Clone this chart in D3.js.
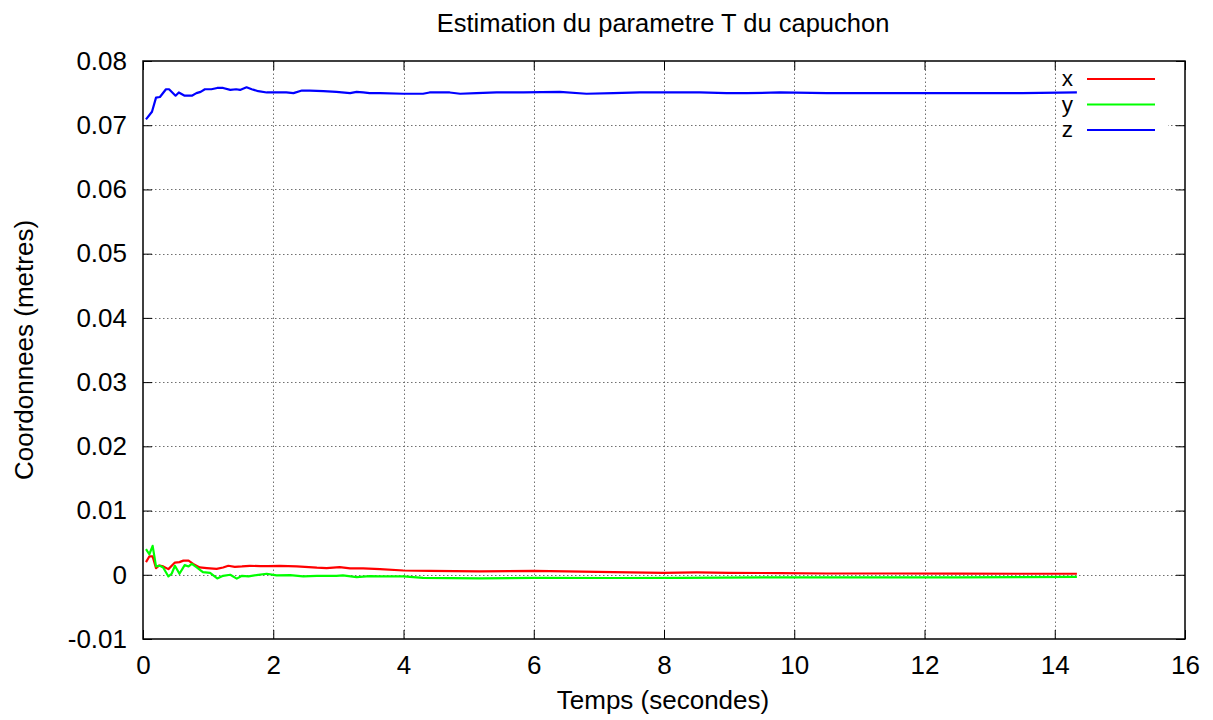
<!DOCTYPE html>
<html>
<head>
<meta charset="utf-8">
<script src="https://cdn.jsdelivr.net/npm/d3@7"></script>
<style>
  html, body { margin: 0; padding: 0; background: #fff; }
  svg { display: block; }
  text { font-family: "Liberation Sans", Arial, Helvetica, sans-serif; fill: #000; }
</style>
</head>
<body>
<svg id="chart" width="1213" height="720"></svg>
<script>
// ---- data ----
const title = "Estimation du parametre T du capuchon";
const xLabel = "Temps (secondes)";
const yLabel = "Coordonnees (metres)";
const xTicks = [0, 2, 4, 6, 8, 10, 12, 14, 16];
const yTicks = [-0.01, 0, 0.01, 0.02, 0.03, 0.04, 0.05, 0.06, 0.07, 0.08];
const seriesNames = ["x", "y", "z"];
const seriesColors = ["#ff0000", "#00ff00", "#0000ff"];

const xTime = [0.046, 0.097, 0.148, 0.2, 0.25, 0.31, 0.39, 0.49, 0.56, 0.62, 0.70, 0.77, 0.87, 0.98, 1.13, 1.23, 1.31, 1.41, 1.52, 1.64, 1.80, 1.92, 2.10, 2.36, 2.67, 2.82, 3.02, 3.18, 3.38, 3.64, 4.0, 4.4, 5.17, 6.0, 6.5, 7.22, 7.99, 8.5, 9.0, 9.78, 10.5, 11.5, 12.5, 13.5, 14.34];
const xValues = [0.00197, 0.00285, 0.00285, 0.00104, 0.00145, 0.0013, 0.00088, 0.0019, 0.00197, 0.0022, 0.0022, 0.0017, 0.00114, 0.00104, 0.00093, 0.00114, 0.0014, 0.00124, 0.0013, 0.0014, 0.00135, 0.00135, 0.0014, 0.0013, 0.0011, 0.00104, 0.0012, 0.001, 0.001, 0.00088, 0.00067, 0.00062, 0.00052, 0.00062, 0.00052, 0.00041, 0.00031, 0.00036, 0.00031, 0.00026, 0.0002, 0.0002, 0.00018, 0.00016, 0.00016];

const yTime = [0.046, 0.097, 0.148, 0.2, 0.26, 0.31, 0.39, 0.44, 0.49, 0.56, 0.64, 0.70, 0.75, 0.82, 0.92, 1.03, 1.14, 1.23, 1.34, 1.44, 1.52, 1.62, 1.74, 1.90, 2.05, 2.26, 2.46, 2.67, 2.97, 3.07, 3.28, 3.48, 3.64, 4.0, 4.3, 5.17, 6.0, 7.22, 8.24, 9.78, 10.5, 11.5, 12.5, 13.5, 14.34];
const yValues = [0.0040, 0.0032, 0.0045, 0.0013, 0.0014, 0.00114, -0.00026, 0.00016, 0.0014, 0.00016, 0.0015, 0.0013, 0.0017, 0.0012, 0.0004, 0.0003, -0.00057, -0.00016, 0.0, -0.0006, -0.00016, -0.00026, -0.00005, 0.00016, -0.0001, -0.00005, -0.00026, -0.00016, -0.00016, -0.0001, -0.00036, -0.0002, -0.00026, -0.00026, -0.00047, -0.00057, -0.00047, -0.0005, -0.00047, -0.0004, -0.0004, -0.00041, -0.0004, -0.00035, -0.00033];

const zTime = [0.046, 0.138, 0.20, 0.26, 0.353, 0.40, 0.50, 0.55, 0.64, 0.75, 0.82, 0.885, 0.95, 1.05, 1.14, 1.23, 1.34, 1.43, 1.49, 1.59, 1.67, 1.77, 1.90, 2.05, 2.2, 2.31, 2.44, 2.56, 2.77, 2.97, 3.18, 3.28, 3.38, 3.48, 3.64, 4.0, 4.3, 4.4, 4.71, 4.87, 5.12, 5.43, 5.84, 6.4, 6.81, 7.22, 7.63, 8.04, 8.55, 8.96, 9.27, 9.78, 10.5, 11.5, 12.5, 13.5, 14.34];
const zValues = [0.0709, 0.0721, 0.0743, 0.0744, 0.0756, 0.0756, 0.0746, 0.0751, 0.0746, 0.0746, 0.0750, 0.0752, 0.0756, 0.0756, 0.0758, 0.0758, 0.0755, 0.0756, 0.0755, 0.0759, 0.0756, 0.0753, 0.0751, 0.0751, 0.0751, 0.0750, 0.0754, 0.0754, 0.0753, 0.0752, 0.0750, 0.0752, 0.0751, 0.0750, 0.0750, 0.0749, 0.0749, 0.0751, 0.0751, 0.0749, 0.0750, 0.0751, 0.0751, 0.0752, 0.0749, 0.0750, 0.0751, 0.0751, 0.0751, 0.0750, 0.0750, 0.0751, 0.0750, 0.0750, 0.0750, 0.0750, 0.0751];

const series = [
  { name: seriesNames[0], color: seriesColors[0], t: xTime, v: xValues },
  { name: seriesNames[1], color: seriesColors[1], t: yTime, v: yValues },
  { name: seriesNames[2], color: seriesColors[2], t: zTime, v: zValues }
];

// ---- layout ----
const W = 1213, H = 720;
const m = { left: 143, right: 1213 - 1185, top: 61, bottom: 720 - 639 };
const tickFont = 26;
const labelFont = 26;
const titleFont = 25.5;
const legendFont = 22.5;

const svg = d3.select("#chart");
const x = d3.scaleLinear().domain([0, 16]).range([m.left, W - m.right]);
const y = d3.scaleLinear().domain([-0.01, 0.08]).range([H - m.bottom, m.top]);

const x0 = x.range()[0], x1 = x.range()[1];
const y0 = y.range()[0], y1 = y.range()[1];

// grid
const grid = svg.append("g").attr("stroke", "#707070").attr("stroke-width", 1)
  .attr("stroke-dasharray", "1.5,2.5");
grid.selectAll("line.h").data(yTicks.slice(1, -1)).join("line")
  .attr("x1", x0).attr("x2", x1)
  .attr("y1", d => Math.round(y(d)) + 0.5).attr("y2", d => Math.round(y(d)) + 0.5);
// legend background (hides horizontal grid behind key)
svg.append("rect").attr("x", 1057).attr("y", 66).attr("width", 111).attr("height", 76).attr("fill", "#fff");
const gridV = svg.append("g").attr("stroke", "#707070").attr("stroke-width", 1)
  .attr("stroke-dasharray", "1.5,2.5");
gridV.selectAll("line.v").data(xTicks.slice(1, -1)).join("line")
  .attr("y1", y0).attr("y2", y1)
  .attr("x1", d => Math.round(x(d)) + 0.5).attr("x2", d => Math.round(x(d)) + 0.5);

// axes with inward ticks (mirrored)
const tickLen = 9;
const yFmt = d => d === 0 ? "0" : d3.format(".2f")(d).replace("\u2212", "-");
const axB = d3.axisBottom(x).tickValues(xTicks).tickSizeInner(-tickLen).tickSizeOuter(0).tickPadding(17).tickFormat(d3.format("d"));
const axT = d3.axisTop(x).tickValues(xTicks).tickSizeInner(-tickLen).tickSizeOuter(0).tickFormat("");
const axL = d3.axisLeft(y).tickValues(yTicks).tickSizeInner(-tickLen).tickSizeOuter(0).tickPadding(16).tickFormat(yFmt);
const axR = d3.axisRight(y).tickValues(yTicks).tickSizeInner(-tickLen).tickSizeOuter(0).tickFormat("");

function styleAxis(g) {
  g.select(".domain").remove();
  g.selectAll(".tick line").attr("stroke", "#000").attr("stroke-width", 1);
  g.selectAll(".tick text").attr("font-size", tickFont).attr("font-family", "Liberation Sans, Arial, sans-serif").attr("fill", "#000");
}
svg.append("g").attr("transform", `translate(0,${y0})`).call(axB).call(styleAxis);
svg.append("g").attr("transform", `translate(0,${y1})`).call(axT).call(styleAxis);
svg.append("g").attr("transform", `translate(${x0},0)`).call(axL).call(styleAxis);
svg.append("g").attr("transform", `translate(${x1},0)`).call(axR).call(styleAxis);

// frame
svg.append("rect").attr("x", x0).attr("y", y1).attr("width", x1 - x0).attr("height", y0 - y1)
  .attr("fill", "none").attr("stroke", "#000").attr("stroke-width", 1.5);

// lines
const line = d3.line().x(d => x(d[0])).y(d => y(d[1]));
series.forEach(s => {
  const pts = s.t.map((t, i) => [t, s.v[i]]);
  svg.append("path").datum(pts).attr("d", line)
    .attr("fill", "none").attr("stroke", s.color).attr("stroke-width", 2.2)
    .attr("stroke-linejoin", "round");
});

// legend
const legRows = [79, 104.5, 130];
series.forEach((s, i) => {
  svg.append("text").attr("x", 1073).attr("y", legRows[i]).attr("dy", "0.32em")
    .attr("text-anchor", "end").attr("font-size", legendFont).text(s.name);
  svg.append("line").attr("x1", 1087).attr("x2", 1155).attr("y1", legRows[i]).attr("y2", legRows[i])
    .attr("stroke", s.color).attr("stroke-width", 2.2);
});

// titles
svg.append("text").attr("x", 663).attr("y", 32).attr("text-anchor", "middle")
  .attr("font-size", titleFont).text(title);
svg.append("text").attr("x", 663).attr("y", 709).attr("text-anchor", "middle")
  .attr("font-size", labelFont).text(xLabel);
svg.append("text").attr("transform", "translate(33,350) rotate(-90)").attr("text-anchor", "middle")
  .attr("font-size", labelFont).text(yLabel);
</script>
</body>
</html>
